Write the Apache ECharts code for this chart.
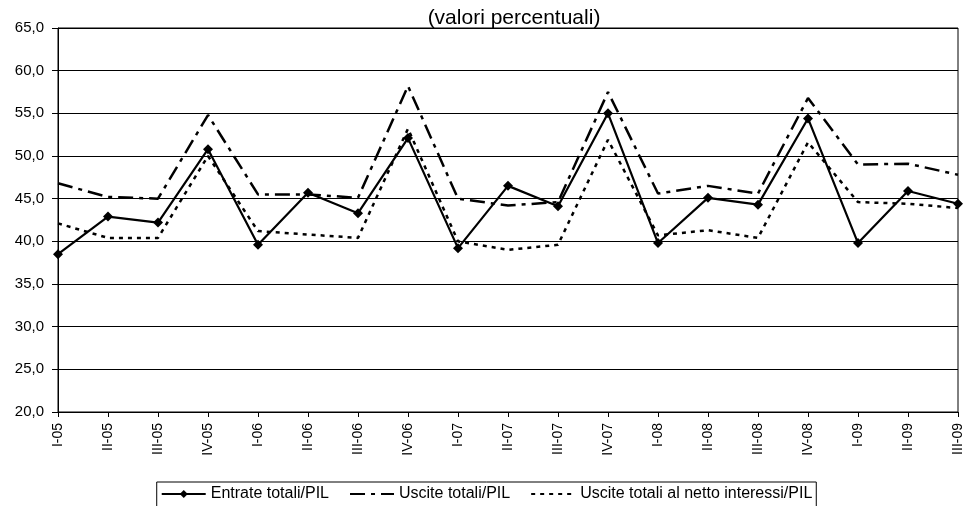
<!DOCTYPE html>
<html><head><meta charset="utf-8">
<script src="https://cdn.jsdelivr.net/npm/echarts@6/dist/echarts.min.js"></script>
<style>html,body{margin:0;padding:0;background:#fff}#c{width:973px;height:506px}</style>
</head><body><div id="c"></div>
<script>
var categories = ['I-05','II-05','III-05','IV-05','I-06','II-06','III-06','IV-06','I-07','II-07','III-07','IV-07','I-08','II-08','III-08','IV-08','I-09','II-09','III-09'];
var entrate = [38.5,42.9,42.2,50.8,39.6,45.7,43.3,52.1,39.2,46.5,44.1,55.0,39.8,45.1,44.3,54.4,39.8,45.9,44.4];
var uscite = [46.8,45.2,45.0,54.8,45.5,45.5,45.1,58.2,45.0,44.2,44.6,57.5,45.6,46.5,45.6,56.8,49.0,49.1,47.8];
var usciteNetto = [42.1,40.4,40.4,50.0,41.2,40.8,40.4,53.2,40.0,39.0,39.6,51.9,40.7,41.3,40.4,51.6,44.6,44.4,43.9];
var names = ['Entrate totali/PIL','Uscite totali/PIL','Uscite totali al netto interessi/PIL'];
var yTicks = {min:20, max:65, interval:5};

var chart = echarts.init(document.getElementById('c'), null, {renderer:'canvas'});
var font = 'Liberation Sans';
var hidden = {color:'rgba(0,0,0,0)', borderWidth:0, opacity:0};
chart.setOption({
  animation:false,
  textStyle:{fontFamily:font},
  title:{text:'(valori percentuali)', left:509, top:3, textAlign:'center',
    textStyle:{fontFamily:font,fontSize:21,fontWeight:'normal',color:'#000'}},
  grid:{left:58,right:15,top:28,bottom:94,show:true,borderColor:'#000',borderWidth:1},
  legend:{bottom:-2,left:'center',borderColor:'#000',borderWidth:1,borderRadius:0,
    padding:[4,4,6,4],itemGap:20,itemWidth:44,itemHeight:10,
    textStyle:{fontFamily:font,fontSize:16,color:'#000'},
    data:[{name:names[0]},{name:names[1],itemStyle:hidden},{name:names[2],itemStyle:hidden}]},
  xAxis:{type:'category',data:categories,boundaryGap:false,
    axisLine:{lineStyle:{color:'#000',width:1}},
    axisTick:{show:true,length:5,lineStyle:{color:'#000'},alignWithLabel:true},
    axisLabel:{rotate:90,fontSize:14,color:'#000',fontFamily:font,margin:11,interval:0},
    splitLine:{show:false}},
  yAxis:{type:'value',min:yTicks.min,max:yTicks.max,interval:yTicks.interval,
    axisLine:{show:true,lineStyle:{color:'#000'}},
    axisTick:{show:true,length:6,lineStyle:{color:'#000'}},
    axisLabel:{fontSize:15,color:'#000',fontFamily:font,margin:14,
      formatter:function(v){return v.toFixed(1).replace('.',',');}},
    splitLine:{show:true,lineStyle:{color:'#000',width:1}}},
  series:[
    {name:names[0],type:'line',data:entrate,symbol:'diamond',symbolSize:10,
      itemStyle:{color:'#000'},lineStyle:{color:'#000',width:2.2,type:'solid'},z:5},
    {name:names[1],type:'line',data:uscite,symbol:'none',showSymbol:false,
      itemStyle:{color:'#000'},lineStyle:{color:'#000',width:2.5,type:[15,6,4,6]}},
    {name:names[2],type:'line',data:usciteNetto,symbol:'none',showSymbol:false,
      itemStyle:{color:'#000'},lineStyle:{color:'#000',width:2.5,type:[4,5]}}
  ]
});
</script></body></html>
